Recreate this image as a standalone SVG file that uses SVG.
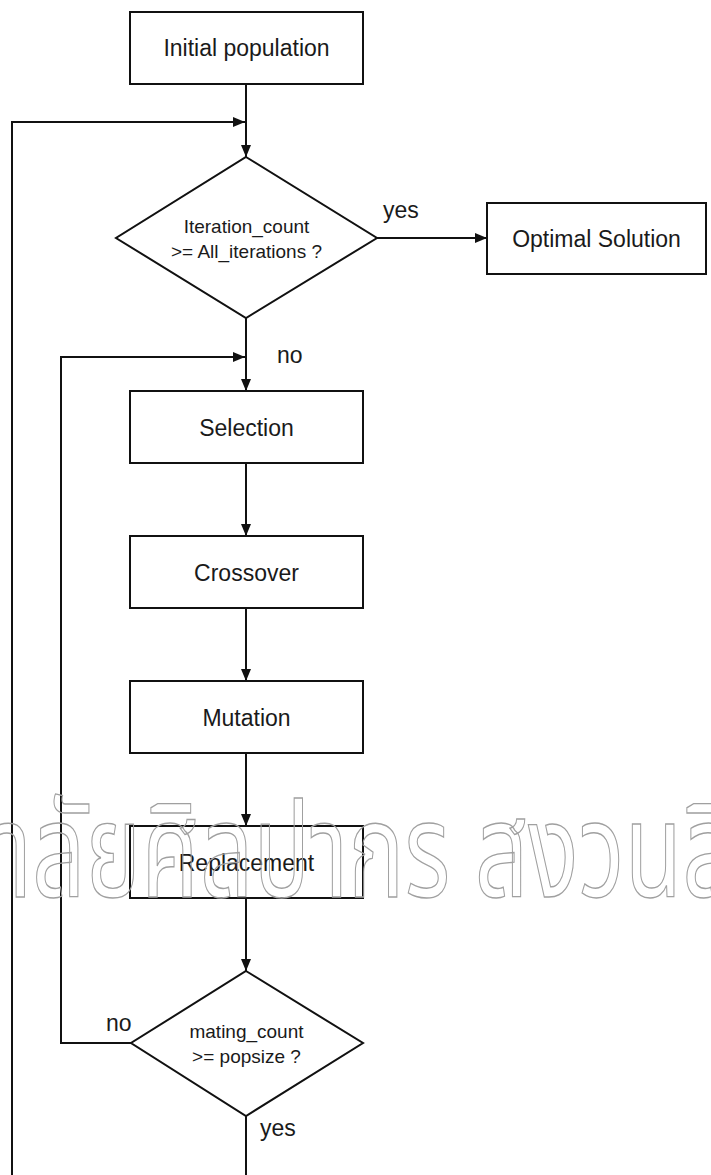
<svg xmlns="http://www.w3.org/2000/svg" width="711" height="1175" viewBox="0 0 711 1175">
<defs>
<marker id="ah" viewBox="0 0 12 10" refX="12" refY="5" markerWidth="12" markerHeight="10" markerUnits="userSpaceOnUse" orient="auto">
<path d="M0,0 L12,5 L0,10 z" fill="#111"/>
</marker>
<style>
.box{fill:#fff;stroke:#111;stroke-width:2}
.lbl{font-family:"Liberation Sans",Arial,sans-serif;font-size:23px;fill:#1a1a1a;text-anchor:middle}
.dt{font-family:"Liberation Sans",Arial,sans-serif;font-size:19px;fill:#1a1a1a;text-anchor:middle}
.el{font-family:"Liberation Sans",Arial,sans-serif;font-size:23px;fill:#1a1a1a}
.con{fill:none;stroke:#111;stroke-width:2}
.wm{font-family:"Noto Sans Thai","Noto Sans","DejaVu Sans",sans-serif;font-size:132px;fill:none;stroke:#a0a0a0;stroke-width:1.4}
</style>
</defs>
<rect width="711" height="1175" fill="#fff"/>
<g id="connectors">
<path class="con" d="M246,84 V157" marker-end="url(#ah)"/>
<path class="con" d="M246,1116 V1190 H12 V122 H245" marker-end="url(#ah)"/>
<path class="con" d="M377,238 H487" marker-end="url(#ah)"/>
<path class="con" d="M246,318 V391" marker-end="url(#ah)"/>
<path class="con" d="M131,1043 H61 V357 H245" marker-end="url(#ah)"/>
<path class="con" d="M246,463 V536" marker-end="url(#ah)"/>
<path class="con" d="M246,608 V681" marker-end="url(#ah)"/>
<path class="con" d="M246,753 V826" marker-end="url(#ah)"/>
<path class="con" d="M246,898 V971" marker-end="url(#ah)"/>
<text class="el" x="383" y="218">yes</text>
<text class="el" x="277" y="363">no</text>
<text class="el" x="106" y="1031">no</text>
<text class="el" x="260" y="1136">yes</text>
</g>
<g id="n-init"><rect class="box" x="130" y="12" width="233" height="72"/><text class="lbl" x="246.5" y="56">Initial population</text></g>
<g id="n-iter"><polygon class="box" points="246,157 377,238 246,318 116,238"/><text class="dt" x="246.5" y="233">Iteration_count</text><text class="dt" x="246.5" y="258">&gt;= All_iterations ?</text></g>
<g id="n-opt"><rect class="box" x="487" y="203" width="219" height="71"/><text class="lbl" x="596.5" y="247">Optimal Solution</text></g>
<g id="n-sel"><rect class="box" x="130" y="391" width="233" height="72"/><text class="lbl" x="246.5" y="436">Selection</text></g>
<g id="n-cross"><rect class="box" x="130" y="536" width="233" height="72"/><text class="lbl" x="246.5" y="581">Crossover</text></g>
<g id="n-mut"><rect class="box" x="130" y="681" width="233" height="72"/><text class="lbl" x="246.5" y="726">Mutation</text></g>
<g id="n-rep"><rect class="box" x="130" y="826" width="233" height="72"/><text class="lbl" x="246.5" y="871">Replacement</text></g>
<g id="n-mate"><polygon class="box" points="246,971 363,1043 246,1116 131,1043"/><text class="dt" x="246.5" y="1038">mating_count</text><text class="dt" x="246.5" y="1063">&gt;= popsize ?</text></g>
<text class="wm" transform="translate(-6,0) scale(0.71,1)" x="0" y="897">าลัยศิลปากร สงวนลิ</text>
</svg>
